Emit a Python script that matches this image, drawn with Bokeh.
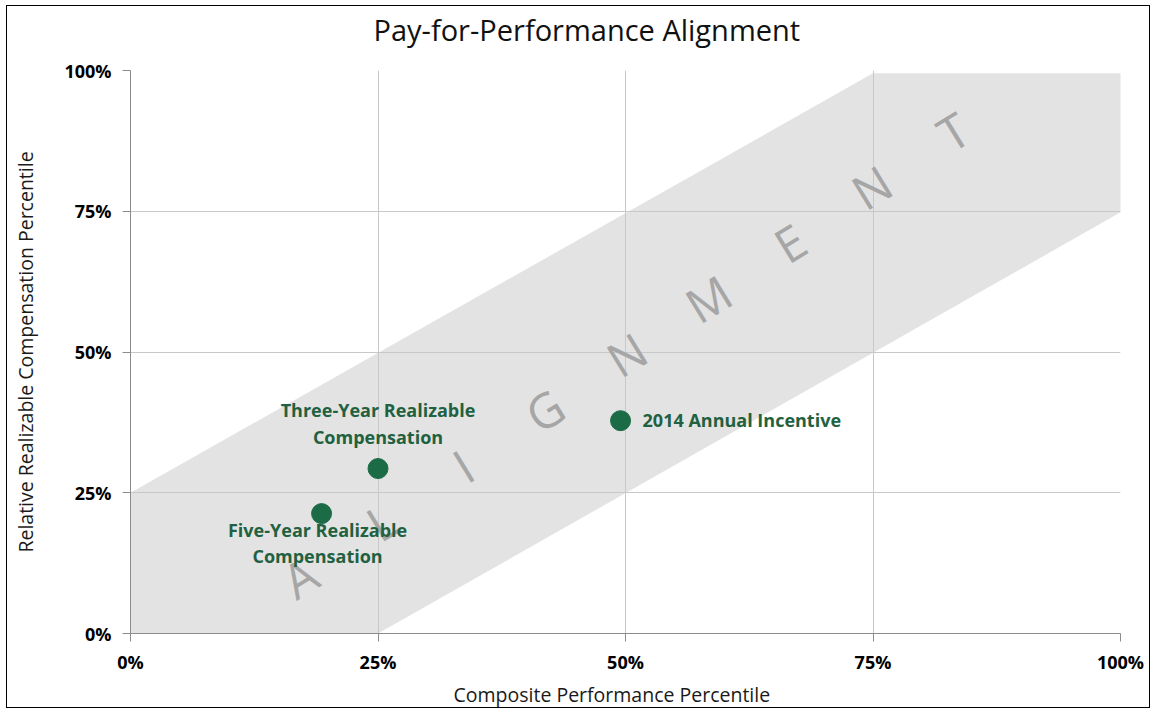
import numpy as np
from bokeh.plotting import figure
from bokeh.models import Range1d, NumeralTickFormatter, FixedTicker, ColumnDataSource, Title
from bokeh.core.properties import value
from bokeh.embed import file_html
from bokeh.resources import INLINE

# ---- data ----
tick_values = [0, 0.25, 0.5, 0.75, 1.0]
band_x = [0.0, 0.0, 0.75, 1.002, 1.002, 0.25]
band_y = [0.0, 0.25, 0.995, 0.995, 0.75, 0.0]
point_labels = ["Five-Year Realizable\nCompensation",
                "Three-Year Realizable\nCompensation",
                "2014 Annual Incentive"]
performance = [0.193, 0.25, 0.495]
compensation = [0.213, 0.293, 0.378]
watermark_letters = list("ALIGNMENT")
title_text = "Pay-for-Performance Alignment"
x_title = "Composite Performance Percentile"
y_title = "Relative Realizable Compensation Percentile"

GREEN = "#1c6b47"
TEXT_GREEN = "#1f6140"
FONT = "Open Sans"

p = figure(width=1144, height=703,
           x_range=Range1d(0, 1), y_range=Range1d(0, 1),
           output_backend="svg", toolbar_location=None,
           min_border_left=123, min_border_right=31,
           min_border_top=64, min_border_bottom=73)
p.styles = {"border": "1px solid #000000", "margin": "5px 0px 0px 6px"}

p.outline_line_color = None
p.background_fill_color = "white"

# band
p.patch(band_x, band_y, fill_color="#e3e3e3", line_color=None, level="image")

# grid
for g in (p.xgrid, p.ygrid):
    g.ticker = FixedTicker(ticks=tick_values)
    g.grid_line_color = "#c8c8c8"
    g.grid_line_width = 1

# axes
for ax in (p.xaxis, p.yaxis):
    ax.ticker = FixedTicker(ticks=tick_values)
    ax.formatter = NumeralTickFormatter(format="0%")
    ax.major_label_text_font = FONT
    ax.major_label_text_font_style = "bold"
    ax.major_label_text_font_size = "18px"
    ax.major_label_text_color = "#000000"
    ax.axis_line_color = "#8c8c8c"
    ax.major_tick_line_color = "#8c8c8c"
    ax.major_tick_out = 8
    ax.major_tick_in = 0
    ax.minor_tick_line_color = None
    ax.axis_label_text_font = FONT
    ax.axis_label_text_font_style = "normal"
    ax.axis_label_text_font_size = "19.5px"
    ax.axis_label_text_color = "#1a1a1a"

p.yaxis.axis_label = y_title
p.xaxis.major_label_standoff = 8
p.yaxis.major_label_standoff = 11
p.yaxis.axis_label_standoff = 22

# spacer nearest the frame, then the chart title above it
p.add_layout(Title(text=" ", text_font_size="1px", standoff=19), "above")
p.add_layout(Title(text=title_text, text_font=FONT, text_font_size="29px",
                   text_font_style="normal", text_color="#111111",
                   align="left", offset=243, standoff=0), "above")
# x-axis title below the tick labels
p.add_layout(Title(text=x_title, text_font=FONT, text_font_size="19.5px",
                   text_font_style="normal", text_color="#1a1a1a",
                   align="left", offset=323, standoff=4), "below")

# watermark letters along the band
n = len(watermark_letters)
wx = np.linspace(0.171, 0.831, n)
wy = np.linspace(0.100, 0.892, n)
p.text(x=wx, y=wy, text=watermark_letters, angle=0.55,
       text_font=value("Open Sans"), text_font_size="48px",
       text_color="#a6a6a6", text_align="center", text_baseline="middle")

# points
src = ColumnDataSource(dict(x=performance, y=compensation, label=point_labels,
                            xo=[-4, 0, 22], yo=[4, -20, -1],
                            align=["center", "center", "left"],
                            base=["top", "bottom", "middle"]))
p.scatter(x="x", y="y", source=src, size=20, fill_color=GREEN, line_color=GREEN)
p.text(x="x", y="y", text="label", source=src, x_offset="xo", y_offset="yo",
       text_align="align", text_baseline="base",
       text_font=value(FONT), text_font_style="bold", text_font_size="18px",
       text_color=TEXT_GREEN, text_line_height=1.1)

open("out.html", "w").write(file_html(p, INLINE))
